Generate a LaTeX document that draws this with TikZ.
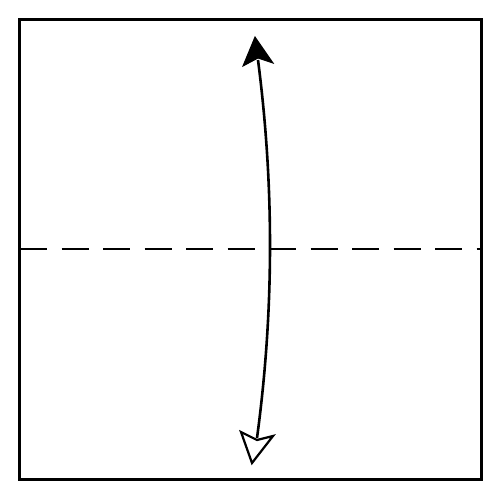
\documentclass[tikz,border=0pt]{standalone}
\begin{document}
\begin{tikzpicture}[x=1pt,y=-1pt,
  edge/.style={line width=2.6pt},
  fold/.style={line width=2.6pt, dash pattern=on 27pt off 14.5pt},
  shaft/.style={line width=2.6pt},
  headfill/.style={fill=black, draw=black, line width=1pt, line join=miter},
  headopen/.style={fill=white, draw=black, line width=2.2pt, line join=miter}]
\useasboundingbox (0,0) rectangle (500,500);
\coordinate (tl) at (19.5,19.5);
\coordinate (br) at (481.5,479.5);
\coordinate (fl) at (20,249);
\coordinate (fr) at (481,249);
\coordinate (a) at (258,60);
\coordinate (b) at (257,438);
\draw[fold] (fl) -- (fr);
\draw[shaft] (a) .. controls (274.3,186) and (274,312) .. (b);
\draw[headfill] (255,37) -- (243,66) -- (258,58) -- (273,63) -- cycle;
\draw[headopen] (252,463) -- (241,432) -- (257,440) -- (273,436) -- cycle;
\draw[edge] (tl) rectangle (br);
\end{tikzpicture}
\end{document}
